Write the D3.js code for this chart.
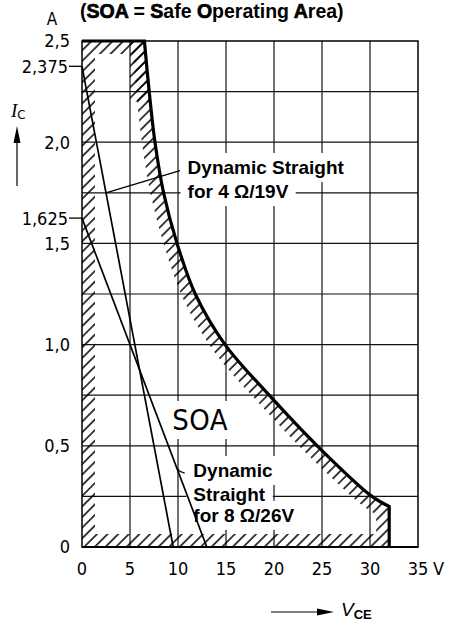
<!DOCTYPE html>
<html>
<head>
<meta charset="utf-8">
<script src="https://cdn.jsdelivr.net/npm/d3@7"></script>
<style>
  body { margin: 0; background: #fff; }
  svg { display: block; }
</style>
</head>
<body>
<div id="chart"></div>
<script>
// SOA boundary, V_CE in volts, I_C in amps
var soaV = [6.5, 7.0, 7.6, 8.5, 9.9, 11.8, 14.9, 19.5, 24.5, 30.2, 32];
var soaI = [2.5, 2.25, 2.0, 1.75, 1.5, 1.25, 1.0, 0.75, 0.5, 0.25, 0.2];

// dynamic straights: I at V=0, V at I=0
var dyn4 = [2.375, 9.5];
var dyn8 = [1.625, 13];

var xTicks = [0, 5, 10, 15, 20, 25, 30, 35];
var yTicks = [0, 0.5, 1.0, 1.5, 2.0, 2.5];
var yTickLabels = ["0", "0,5", "1,0", "1,5", "2,0", "2,5"];
var yMarks = [2.375, 1.625];
var yMarkLabels = ["2,375", "1,625"];
var xGrid = [5, 10, 15, 20, 25, 30];
var yGrid = [0.25, 0.5, 0.75, 1.0, 1.25, 1.5, 1.75, 2.0, 2.25];

var width = 456, height = 625;
var margin = { top: 41, left: 82, right: 38, bottom: 78 };

var svg = d3.select("#chart").append("svg").attr("width", width).attr("height", height);
svg.append("rect").attr("width", width).attr("height", height).attr("fill", "#fff");

var x = d3.scaleLinear().domain([0, 35]).range([margin.left, width - margin.right]);
var y = d3.scaleLinear().domain([0, 2.5]).range([height - margin.bottom, margin.top]);

var tickFont = "'DejaVu Sans Condensed', 'DejaVu Sans', sans-serif";
var labelFont = "'Liberation Sans', Arial, sans-serif";

var defs = svg.append("defs");
var pat = defs.append("pattern")
  .attr("id", "hatch")
  .attr("patternUnits", "userSpaceOnUse")
  .attr("width", 7.5).attr("height", 7.5)
  .attr("patternTransform", "rotate(45)");
pat.append("line")
  .attr("x1", 3.75).attr("y1", 0).attr("x2", 3.75).attr("y2", 7.5)
  .attr("stroke", "#000").attr("stroke-width", 1.5);

var gGrid = svg.append("g");
var gBoxes = svg.append("g");
var gHatch = svg.append("g");
var gLines = svg.append("g");
var gText = svg.append("g");

// grid
gGrid.selectAll(".vg").data(xGrid).enter().append("line")
  .attr("x1", d => x(d)).attr("x2", d => x(d))
  .attr("y1", y(0)).attr("y2", y(2.5))
  .attr("stroke", "#111").attr("stroke-width", 1.2);
gGrid.selectAll(".hg").data(yGrid).enter().append("line")
  .attr("x1", x(0)).attr("x2", x(35))
  .attr("y1", d => y(d)).attr("y2", d => y(d))
  .attr("stroke", "#111").attr("stroke-width", 1.2);

// SOA outline path
var curvePts = soaV.map((v, i) => [x(v), y(soaI[i])]);
var curveLine = d3.line().curve(d3.curveCatmullRom.alpha(0.5));
var curveD = curveLine(curvePts);
var soaD = "M" + x(0) + "," + y(0) + "L" + x(0) + "," + y(2.5) + "L" + curveD.slice(1) +
  "L" + x(32) + "," + y(0) + "Z";
var edgeD = "M" + x(0) + "," + y(2.5) + "L" + curveD.slice(1) + "L" + x(32) + "," + y(0);

defs.append("clipPath").attr("id", "soaClip").append("path").attr("d", soaD);

// hatched band inside the SOA border
gHatch.append("path")
  .attr("d", soaD)
  .attr("fill", "none")
  .attr("stroke", "url(#hatch)")
  .attr("stroke-width", 26)
  .attr("clip-path", "url(#soaClip)");
gHatch.append("rect")
  .attr("x", x(5)).attr("y", y(2.5))
  .attr("width", x(8) - x(5)).attr("height", y(2.2) - y(2.5))
  .attr("fill", "url(#hatch)")
  .attr("clip-path", "url(#soaClip)");

// frame
gLines.append("rect")
  .attr("x", x(0)).attr("y", y(2.5))
  .attr("width", x(35) - x(0)).attr("height", y(0) - y(2.5))
  .attr("fill", "none").attr("stroke", "#000").attr("stroke-width", 1.5);
gLines.append("line")
  .attr("x1", x(0)).attr("x2", x(35)).attr("y1", y(0)).attr("y2", y(0))
  .attr("stroke", "#000").attr("stroke-width", 2);

// SOA boundary
gLines.append("path")
  .attr("d", edgeD)
  .attr("fill", "none").attr("stroke", "#000").attr("stroke-width", 3.2)
  .attr("stroke-linejoin", "miter");

// dynamic straights
[dyn4, dyn8].forEach(function(d) {
  gLines.append("line")
    .attr("x1", x(0)).attr("y1", y(d[0]))
    .attr("x2", x(d[1])).attr("y2", y(0))
    .attr("stroke", "#000").attr("stroke-width", 1.7);
});

// leaders
function onLine(d, v) { return d[0] - d[0] / d[1] * v; }
gLines.append("line")
  .attr("x1", x(2.5)).attr("y1", y(onLine(dyn4, 2.5)))
  .attr("x2", x(10.2)).attr("y2", y(1.86))
  .attr("stroke", "#000").attr("stroke-width", 1.3);
gLines.append("path")
  .attr("d", "M" + x(9.9) + "," + y(onLine(dyn8, 9.9)) + "Q" + x(10.2) + "," + y(0.37) + " " + x(10.7) + "," + y(0.365))
  .attr("fill", "none").attr("stroke", "#000").attr("stroke-width", 1.3);

// text with white box behind
function boxed(t, px, py) {
  var b = t.node().getBBox();
  gBoxes.append("rect")
    .attr("x", b.x - px).attr("y", b.y - py)
    .attr("width", b.width + 2 * px).attr("height", b.height + 2 * py)
    .attr("fill", "#fff");
}

var lab1 = [["Dynamic Straight", 1.843], ["for 4 \u03A9/19V", 1.724]];
lab1.forEach(function(l) {
  var t = gText.append("text")
    .attr("x", x(11.0)).attr("y", y(l[1]))
    .attr("font-family", labelFont).attr("font-weight", "bold")
    .attr("font-size", 19).text(l[0]);
  boxed(t, 7, 4);
});

var lab2 = [["Dynamic", 0.346], ["Straight", 0.227], ["for 8 \u03A9/26V", 0.124]];
lab2.forEach(function(l) {
  var t = gText.append("text")
    .attr("x", x(11.6)).attr("y", y(l[1]))
    .attr("font-family", labelFont).attr("font-weight", "bold")
    .attr("font-size", 19).text(l[0]);
  boxed(t, 7, 4);
});

var soaText = gText.append("text")
  .attr("x", x(9.4)).attr("y", y(0.578))
  .attr("font-family", tickFont).attr("font-size", 29)
  .attr("letter-spacing", 0.5)
  .text("SOA");
boxed(soaText, 4, 2);

// x tick labels
gText.selectAll(".xt").data(xTicks).enter().append("text")
  .attr("x", d => x(d)).attr("y", y(0) + 28)
  .attr("text-anchor", "middle")
  .attr("font-family", tickFont).attr("font-size", 18)
  .text(d => d);
gText.append("text")
  .attr("x", x(35) + 15).attr("y", y(0) + 28)
  .attr("font-family", tickFont).attr("font-size", 18)
  .text("V");

// y tick labels
gText.selectAll(".yt").data(yTicks).enter().append("text")
  .attr("x", x(0) - 12).attr("y", d => y(d))
  .attr("dy", "0.36em")
  .attr("text-anchor", "end")
  .attr("font-family", tickFont).attr("font-size", 18)
  .text((d, i) => yTickLabels[i]);
gText.selectAll(".ym").data(yMarks).enter().append("text")
  .attr("x", x(0) - 14).attr("y", d => y(d))
  .attr("dy", "0.36em")
  .attr("text-anchor", "end")
  .attr("font-family", tickFont).attr("font-size", 18)
  .text((d, i) => yMarkLabels[i]);
gLines.selectAll(".ymt").data(yMarks).enter().append("line")
  .attr("x1", x(0) - 13).attr("x2", x(0))
  .attr("y1", d => y(d)).attr("y2", d => y(d))
  .attr("stroke", "#000").attr("stroke-width", 1.3);

// unit "A"
gText.append("text")
  .attr("x", 52).attr("y", 25)
  .attr("text-anchor", "middle")
  .attr("font-family", tickFont).attr("font-size", 17)
  .text("A");

// title
var title = gText.append("text")
  .attr("x", 80).attr("y", 18)
  .attr("font-family", labelFont).attr("font-weight", "bold")
  .attr("font-size", 19.5);
[["(", 0], ["SOA", 1], [" = ", 0], ["S", 1], ["afe ", 0], ["O", 1], ["perating ", 0], ["A", 1], ["rea)", 0]]
  .forEach(function(p) {
    var s = title.append("tspan").text(p[0]);
    if (p[1]) s.attr("stroke", "#000").attr("stroke-width", 0.7);
  });

// I_C axis label + arrow
var ic = gText.append("text").attr("x", 11).attr("y", 117);
ic.append("tspan").attr("font-family", "'Liberation Serif', serif").attr("font-style", "italic")
  .attr("font-size", 19).text("I");
ic.append("tspan").attr("font-family", tickFont).attr("font-size", 13).attr("dy", 2).text("C");

gLines.append("line").attr("x1", 17).attr("x2", 17).attr("y1", 186).attr("y2", 140)
  .attr("stroke", "#000").attr("stroke-width", 1.2);
gLines.append("path").attr("d", "M17,126L13.5,143L20.5,143Z").attr("fill", "#000");

// V_CE axis label + arrow
gLines.append("line").attr("x1", 271).attr("x2", 322).attr("y1", 612).attr("y2", 612)
  .attr("stroke", "#000").attr("stroke-width", 1.2);
gLines.append("path").attr("d", "M334,612L317,608.5L317,615.5Z").attr("fill", "#000");
var vce = gText.append("text").attr("x", 341).attr("y", 616);
vce.append("tspan").attr("font-family", labelFont).attr("font-style", "italic")
  .attr("font-size", 19).text("V");
vce.append("tspan").attr("font-family", labelFont).attr("font-weight", "bold")
  .attr("font-size", 13).attr("dy", 3).text("CE");
</script>
</body>
</html>
